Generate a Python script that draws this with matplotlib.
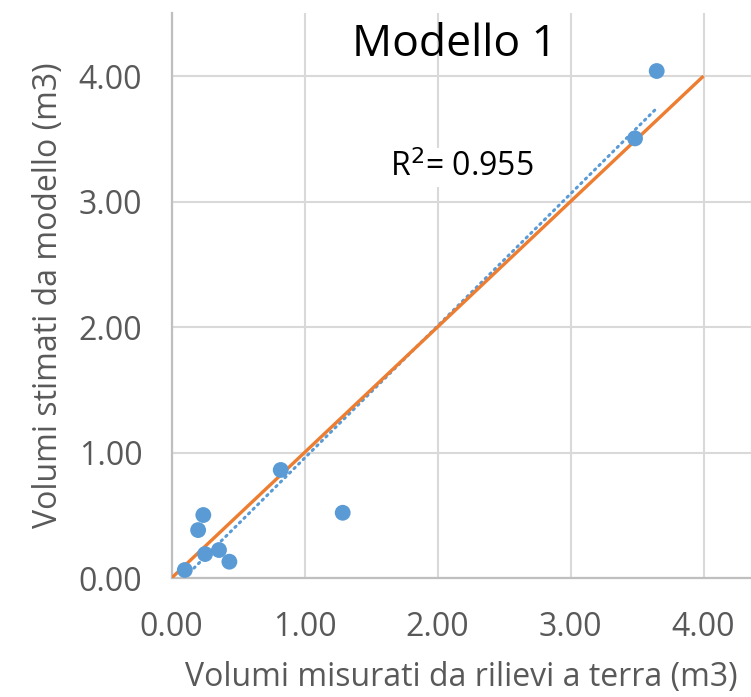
import numpy as np
import matplotlib
matplotlib.use("Agg")
import matplotlib.pyplot as plt

# Measured (ground survey) vs model-estimated volumes, m3
misurati = [0.10, 0.20, 0.239, 0.252, 0.357, 0.435, 0.821, 1.287, 3.485, 3.648]
stimati = [0.064, 0.382, 0.502, 0.191, 0.223, 0.130, 0.861, 0.520, 3.503, 4.040]
tick_values = [0.0, 1.0, 2.0, 3.0, 4.0]
tick_labels = ["0.00", "1.00", "2.00", "3.00", "4.00"]
r2_text = "0.955"

BLUE = "#5B9BD5"
ORANGE = "#ED7D31"
GRID = "#D9D9D9"
TEXT = "#595959"

plt.rcParams["font.family"] = ["Open Sans", "DejaVu Sans"]

fig = plt.figure(figsize=(7.51, 6.97), dpi=100)
ax = fig.add_axes([0.2284, 0.1707, 0.7716, 0.8106])

x = np.array(misurati)
y = np.array(stimati)

# 1:1 reference line
ax.plot([0, 4], [0, 4], color=ORANGE, lw=2.4, zorder=3, solid_capstyle="butt")

# linear trend line over the data range
m, q = np.polyfit(x, y, 1)
xt = np.array([x.min(), x.max()])
ax.plot(xt, m * xt + q, color=BLUE, lw=2.2, ls=(0, (0.5, 1.6)),
        dash_capstyle="round", zorder=2)

ax.scatter(x, y, s=130, color=BLUE, edgecolors="none", zorder=4)

ax.set_xlim(0, 4.357)
ax.set_ylim(0, 4.502)
ax.set_xticks(tick_values)
ax.set_xticklabels(tick_labels)
ax.set_yticks(tick_values)
ax.set_yticklabels(tick_labels)
ax.grid(True, color=GRID, lw=1.5, zorder=0)
ax.set_axisbelow(True)

for s in ["top", "right"]:
    ax.spines[s].set_visible(False)
for s in ["left", "bottom"]:
    ax.spines[s].set_color("#BFBFBF")
    ax.spines[s].set_linewidth(1.6)

ax.tick_params(axis="both", length=0, labelsize=23, labelcolor=TEXT)
ax.tick_params(axis="x", pad=24)
ax.tick_params(axis="y", pad=21)

ax.set_xlabel("Volumi misurati da rilievi a terra (m3)", fontsize=23,
              color=TEXT, labelpad=12)
ax.set_ylabel("Volumi stimati da modello (m3)", fontsize=23, color=TEXT,
              labelpad=10)

fig.text(455 / 751, 1 - 56 / 697, "Modello 1", fontsize=32, color="black",
         ha="center", va="baseline")

ax.text(2.18, 3.27, "R$^2$= " + r2_text, fontsize=23, color="black",
        ha="center", va="center", zorder=5,
        bbox=dict(facecolor="white", edgecolor="none", pad=2))

fig.savefig("out.png", dpi=100)
